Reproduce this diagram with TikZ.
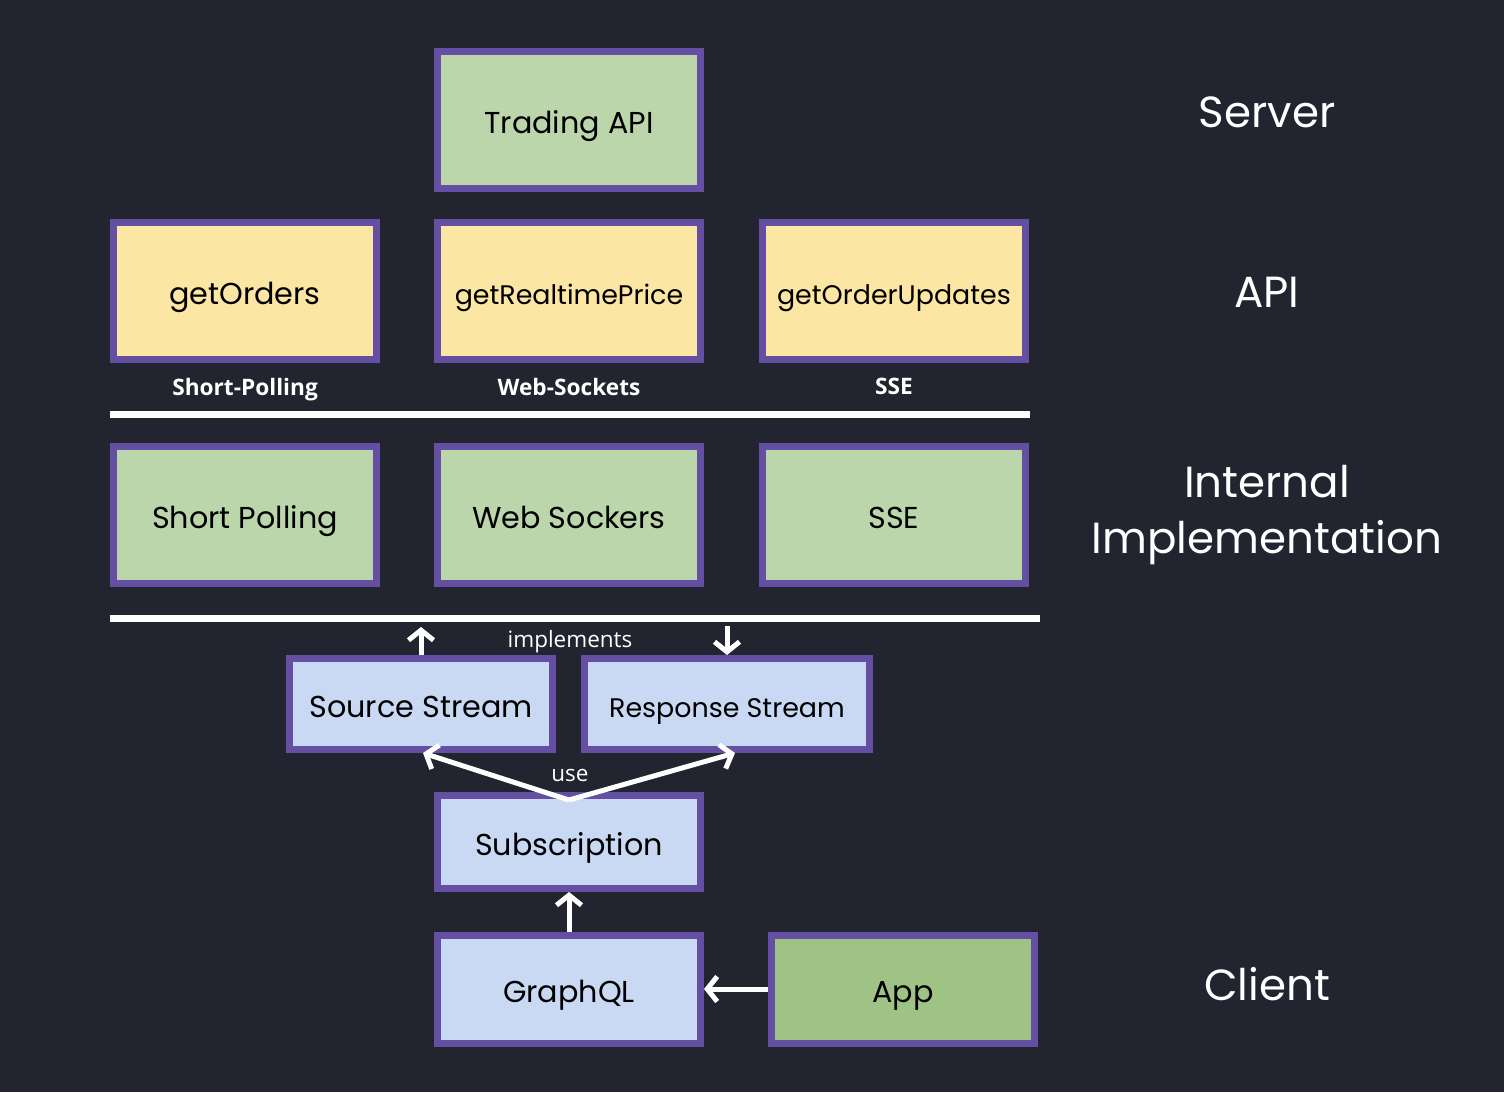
\documentclass[tikz,border=0pt]{standalone}
\usepackage{fontspec}
\setmainfont{Poppins}
\newfontfamily\tagfont{Open Sans}
\usetikzlibrary{positioning,arrows.meta}

\definecolor{bgdark}{HTML}{22242F}
\definecolor{boxline}{HTML}{654FA3}
\definecolor{boxgreen}{HTML}{BCD6AC}
\definecolor{boxyellow}{HTML}{FCE6A4}
\definecolor{boxblue}{HTML}{C9D9F3}
\definecolor{appgreen}{HTML}{9EC385}

\tikzset{
  box/.style={draw=boxline, line width=0.14cm, minimum width=5.26cm, minimum height=2.74cm, inner sep=0pt, text height=15.5pt, text depth=0pt, font=\fontsize{17.2}{20}\selectfont, text=black},
  smalltext/.style={font=\fontsize{15.3}{18}\selectfont},
  greenbox/.style={box, fill=boxgreen},
  yellowbox/.style={box, fill=boxyellow},
  bluebox/.style={box, fill=boxblue},
  tag/.style={text=white, font=\tagfont\bfseries\fontsize{12.9}{15}\selectfont, inner sep=0pt},
  note/.style={text=white, font=\tagfont\fontsize{12.8}{15}\selectfont, inner sep=0pt},
  layer/.style={text=white, font=\fontsize{24.8}{32}\selectfont, align=center},
  sep/.style={draw=white, line width=0.14cm},
  flow/.style={draw=white, line width=0.1cm, -{Straight Barb[length=0.2cm,width=0.5cm]}}
}

\begin{document}
\begin{tikzpicture}[x=0.02cm,y=-0.02cm]
\fill[bgdark] (0,0) rectangle (1504,1092);
\useasboundingbox (0,0) rectangle (1504,1092);

\node[greenbox](trading) at (569,120){Trading API};

\node[yellowbox, smalltext, below=0.54cm of trading](realtime){getRealtimePrice};
\node[yellowbox, left=1.08cm of realtime](orders){getOrders};
\node[yellowbox, smalltext, right=1.1cm of realtime](updates){getOrderUpdates};
\node[tag, below=0.3cm of orders](tagorders){Short-Polling};
\node[tag, below=0.3cm of realtime](tagrealtime){Web-Sockets};
\node[tag, below=0.3cm of updates](tagupdates){SSE};

\draw[sep] (110,414) -- (1030,414);

\node[greenbox, below=1.6cm of orders](short){Short Polling};
\node[greenbox, below=1.6cm of realtime](sockets){Web Sockers};
\node[greenbox, below=1.6cm of updates](sse){SSE};

\draw[sep] (110,618) -- (1040,618);

\node[bluebox, minimum height=1.82cm](source) at (421,704){Source Stream};
\node[bluebox, smalltext, minimum width=5.7cm, minimum height=1.82cm](response) at (727,704){Response Stream};
\node[note](implements) at (570,642){implements};
\coordinate (srcup) at (421,627);
\coordinate (respdown) at (727,626);
\path (source) edge[flow] (srcup);
\path (respdown) edge[flow] (response);

\node[bluebox, minimum height=1.86cm](subscription) at (569,842){Subscription};
\node[note](use) at (570,775){use};
\coordinate (usefrom) at (569,800);
\coordinate (usesrc) at (423,753);
\coordinate (useresp) at (735,753);
\path (usefrom) edge[flow] (usesrc);
\path (usefrom) edge[flow] (useresp);

\node[bluebox, minimum height=2.16cm](graphql) at (569,989){GraphQL};
\node[box, fill=appgreen, minimum height=2.16cm](app) at (903,989){App};
\path (graphql) edge[flow] (subscription);
\path (app) edge[flow] (graphql);

\node[layer](server) at (1267,112){Server};
\node[layer](api) at (1267,292){API};
\node[layer](internal) at (1267,515){Internal\\Implementation};
\node[layer](client) at (1267,984){Client};

\end{tikzpicture}
\end{document}
